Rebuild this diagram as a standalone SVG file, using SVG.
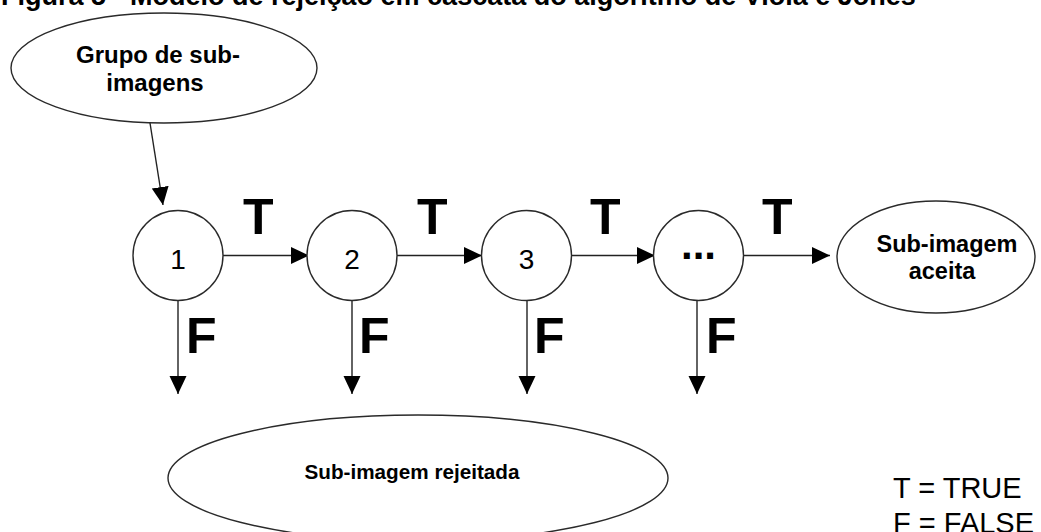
<svg xmlns="http://www.w3.org/2000/svg" width="1041" height="532" viewBox="0 0 1041 532">
  <defs>
    <style>
      .shape { fill: #ffffff; stroke: #2a2a2a; stroke-width: 1.4; }
      .edge { fill: none; stroke: #222222; stroke-width: 1.4; marker-end: url(#head); }
      .label { font-family: "Liberation Sans", Arial, sans-serif; font-weight: bold; font-size: 23.5px; fill: #000000; text-anchor: middle; }
      .num { font-family: "Liberation Sans", Arial, sans-serif; font-size: 28px; fill: #000000; text-anchor: middle; }
      .tf { font-family: "Liberation Sans", Arial, sans-serif; font-weight: bold; font-size: 50px; fill: #000000; }
      .legend { font-family: "Liberation Sans", Arial, sans-serif; font-size: 29px; fill: #000000; }
      .title { font-family: "Liberation Sans", Arial, sans-serif; font-weight: bold; font-size: 27px; fill: #000000; }
    </style>
    <marker id="head" markerUnits="userSpaceOnUse" markerWidth="19" markerHeight="18" refX="18" refY="8.5" orient="auto">
      <path d="M0,0 L18,8.5 L0,17 z" fill="#000000"/>
    </marker>
  </defs>

  <rect width="1041" height="532" fill="#ffffff"/>

  <!-- caption, partly above the top edge -->
  <text class="title" x="1" y="5">Figura 5 - Modelo de rejeição em cascata do algoritmo de Viola e Jones</text>

  <!-- connectors -->
  <g id="connectors">
    <line class="edge" x1="150" y1="123" x2="163" y2="205"/>
    <line class="edge" x1="223" y1="255.5" x2="309" y2="255.5"/>
    <line class="edge" x1="397" y1="255.5" x2="482" y2="255.5"/>
    <line class="edge" x1="571" y1="255.5" x2="655" y2="255.5"/>
    <line class="edge" x1="743" y1="255.5" x2="830" y2="255.5"/>
    <line class="edge" x1="178" y1="300" x2="178" y2="394"/>
    <line class="edge" x1="352" y1="300" x2="352" y2="394"/>
    <line class="edge" x1="527" y1="300" x2="527" y2="394"/>
    <line class="edge" x1="697" y1="300" x2="697" y2="394"/>
    <text class="tf" x="243" y="234">T</text>
    <text class="tf" x="417" y="234">T</text>
    <text class="tf" x="590" y="234">T</text>
    <text class="tf" x="762" y="234">T</text>
    <text class="tf" x="186" y="353">F</text>
    <text class="tf" x="359" y="353">F</text>
    <text class="tf" x="534" y="353">F</text>
    <text class="tf" x="706" y="353">F</text>
  </g>

  <g id="group-input">
    <ellipse class="shape" cx="164" cy="68" rx="153" ry="55"/>
    <text class="label" x="158" y="63" style="font-size:24px">Grupo de sub-</text>
    <text class="label" x="155" y="91" style="font-size:24px">imagens</text>
  </g>

  <g id="stage-1">
    <circle class="shape" cx="178" cy="255.5" r="45"/>
    <text class="num" x="178" y="269">1</text>
  </g>

  <g id="stage-2">
    <circle class="shape" cx="352" cy="255.5" r="45"/>
    <text class="num" x="352" y="269">2</text>
  </g>

  <g id="stage-3">
    <circle class="shape" cx="526.5" cy="255.5" r="45"/>
    <text class="num" x="526.5" y="269">3</text>
  </g>

  <g id="stage-n">
    <circle class="shape" cx="698.5" cy="255.5" r="45"/>
    <text class="label" x="698.5" y="259" style="font-size:42px">...</text>
  </g>

  <g id="accepted">
    <ellipse class="shape" cx="936" cy="257" rx="99" ry="56"/>
    <text class="label" x="947" y="252">Sub-imagem</text>
    <text class="label" x="942" y="279">aceita</text>
  </g>

  <g id="rejected">
    <ellipse class="shape" cx="418" cy="478" rx="250" ry="63"/>
    <text class="label" x="412" y="479" style="font-size:20.7px">Sub-imagem rejeitada</text>
  </g>

  <g id="legend">
    <text class="legend" x="893" y="498">T = TRUE</text>
    <text class="legend" x="893" y="533">F = FALSE</text>
  </g>
</svg>
